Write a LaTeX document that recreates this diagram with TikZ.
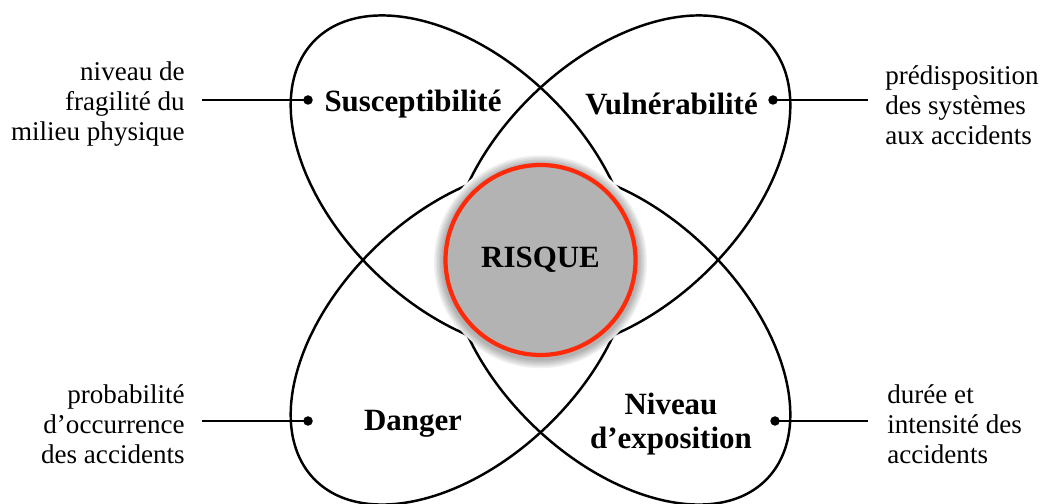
\documentclass[tikz,border=0pt]{standalone}
\usepackage{fontspec}
\setmainfont{Liberation Serif}

\definecolor{riskink}{HTML}{000000}
\definecolor{riskred}{HTML}{FF2A0A}
\definecolor{riskgray}{HTML}{B3B3B3}

\begin{document}
\begin{tikzpicture}[
  x=1cm,y=1cm,
  font=\fontsize{15.4}{17.2}\selectfont,
  lobe/.style={draw=riskink,line width=1.4pt},
  core/.style={circle,draw=riskred,fill=riskgray,line width=2.4pt,
               minimum size=3.8cm,inner sep=0pt,
               font=\bfseries\fontsize{17.6}{19}\selectfont},
  factor/.style={font=\bfseries\fontsize{17.6}{19.4}\selectfont,
                 align=center,inner sep=0pt},
  note/.style={inner sep=0pt},
  pin/.style={circle,fill=riskink,inner sep=0pt,minimum size=.19cm},
  lead/.style={draw=riskink,line width=1.1pt}
]
  \useasboundingbox (0,0) rectangle (20.82,10.08);
  \coordinate (c) at (10.81,4.88);

  % four lobes, their inner ends hidden under the centre
  \foreach \cx/\cy/\ang in {9.23/6.41/-44, 12.39/6.41/44,
                            9.23/3.35/44, 12.39/3.35/-44}{
    \draw[lobe,rotate around={\ang:(\cx,\cy)}] (\cx,\cy) ellipse (4.1 and 2.48);
  }

  % soft halo round the centre
  \fill[white] (c) circle (2.13);
  \foreach \r in {2.13,2.10,2.07,2.04,2.01,1.98}{
    \fill[black,opacity=.055] ([yshift=-1pt]c) circle (\r);
  }
  \node[core] (risque) at (c) {RISQUE};

  \node[factor] (sus) at (8.26,8.0) {Susceptibilité};
  \node[factor] (vul) at (13.43,8.0) {Vulnérabilité};
  \node[factor] (dan) at (8.26,1.6) {Danger};
  \node[factor] (niv) at (13.42,1.6) {Niveau\\d’exposition};

  \node[note,anchor=east,align=right] (nsus) at (3.7,8.0)
    {niveau de\\fragilité du\\milieu physique};
  \node[note,anchor=west,align=left] (nvul) at (17.7,7.98)
    {prédisposition\\des systèmes\\aux accidents};
  \node[note,anchor=east,align=right] (ndan) at (3.7,1.6)
    {probabilité\\d’occurrence\\des accidents};
  \node[note,anchor=west,align=left] (nniv) at (17.74,1.6)
    {durée et\\intensité des\\accidents};

  % leader lines ending on a dot inside each lobe
  \coordinate (esus) at (4.04,8.08);
  \coordinate (evul) at (17.36,8.08);
  \coordinate (edan) at (4.04,1.66);
  \coordinate (eniv) at (17.36,1.66);
  \node[pin] (psus) at (6.16,8.08) {};
  \node[pin] (pvul) at (15.46,8.08) {};
  \node[pin] (pdan) at (6.16,1.66) {};
  \node[pin] (pniv) at (15.5,1.66) {};
  \draw[lead] (esus) -- (psus.center);
  \draw[lead] (pvul.center) -- (evul);
  \draw[lead] (edan) -- (pdan.center);
  \draw[lead] (pniv.center) -- (eniv);
\end{tikzpicture}
\end{document}
